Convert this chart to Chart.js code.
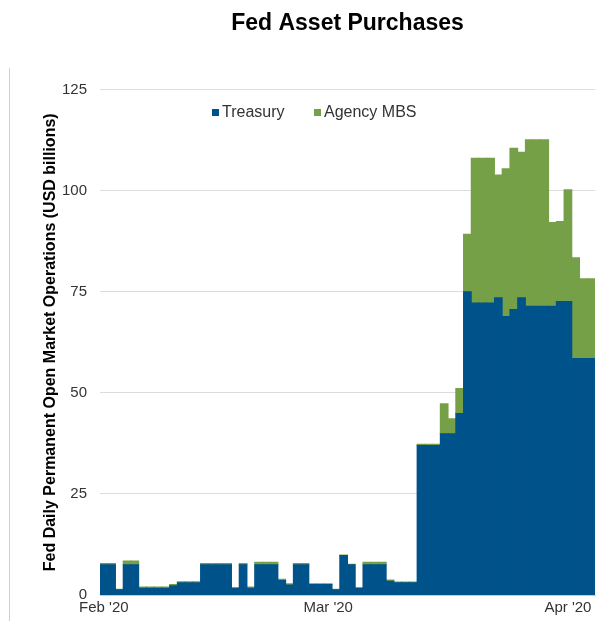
<!DOCTYPE html>
<html>
<head>
<meta charset="utf-8">
<script src="https://cdn.jsdelivr.net/npm/chart.js@4"></script>
<style>
  html, body { margin: 0; padding: 0; background: #ffffff; }
  #wrap { position: relative; width: 597px; height: 621px; }
  #frame { position: absolute; left: 9px; top: 68px; width: 1px; height: 553px; background: #d0d0d0; }
  canvas { position: absolute; left: 0; top: 0; }
</style>
</head>
<body>
<div id="wrap">
  <div id="frame"></div>
  <canvas id="c" width="597" height="621"></canvas>
</div>
<script>
// ---- Data (daily, Feb 1 2020 .. Apr 4 2020) ----
const startDate = '2020-02-01';
const dayCount = 64;
const seriesNames = ['Treasury', 'Agency MBS'];
const treasury = [
  7.5, 7.5, 1.3, 7.5, 7.5,
  1.7, 1.7, 1.7, 1.7,
  2.3,
  3.0, 3.0, 3.0,
  7.5, 7.5, 7.5, 7.5,
  1.7, 7.5, 1.7,
  7.5, 7.5, 7.5,
  3.6, 2.5,
  7.5, 7.5,
  2.6, 2.6, 2.6,
  1.3, 9.8, 7.5, 1.7,
  7.5, 7.5, 7.5,
  3.4, 3.0, 3.0, 3.0,
  37.0, 37.0, 37.0,
  39.9, 39.9, 44.9, 75.0,
  72.2, 72.2, 72.2,
  73.5, 68.9, 70.6, 73.5,
  71.4, 71.4, 71.4, 71.4,
  72.6, 72.6,
  58.5, 58.5, 58.5
];
const agencyMBS = [
  0.3, 0.3, 0.1, 0.9, 0.9,
  0.3, 0.3, 0.3, 0.3,
  0.3,
  0.3, 0.3, 0.3,
  0.3, 0.3, 0.3, 0.3,
  0.1, 0.3, 0.3,
  0.6, 0.6, 0.6,
  0.3, 0.3,
  0.3, 0.3,
  0.2, 0.2, 0.2,
  0.1, 0.1, 0.1, 0.1,
  0.6, 0.6, 0.6,
  0.3, 0.2, 0.2, 0.2,
  0.3, 0.3, 0.3,
  7.4, 3.7, 6.2, 14.2,
  35.8, 35.8, 35.8,
  30.4, 36.5, 39.9, 36.0,
  41.2, 41.2, 41.2, 20.7,
  19.8, 27.6,
  24.9, 19.7, 19.7
];
const xTickDates = ['2020-02-01', '2020-03-01', '2020-04-01'];
const xTickLabels = ["Feb '20", "Mar '20", "Apr '20"];
const yTicks = [0, 25, 50, 75, 100, 125];

// build daily category labels
const categories = [];
{
  const d0 = new Date(startDate + 'T00:00:00Z');
  for (let i = 0; i < dayCount; i++) {
    const d = new Date(d0.getTime() + i * 86400000);
    categories.push(d.toISOString().slice(0, 10));
  }
}

const COLORS = { treasury: '#00538A', mbs: '#76A047' };
const FONT = "'Liberation Sans', Arial, sans-serif";

// legend drawn inside the plot area
const innerLegend = {
  id: 'innerLegend',
  afterDraw(chart) {
    const ctx = chart.ctx;
    const items = [
      { x: 212, label: chart.data.datasets[0].label, color: chart.data.datasets[0].backgroundColor },
      { x: 314, label: chart.data.datasets[1].label, color: chart.data.datasets[1].backgroundColor }
    ];
    const y = 112;
    ctx.save();
    ctx.font = '16px ' + FONT;
    ctx.textBaseline = 'middle';
    ctx.textAlign = 'left';
    items.forEach(it => {
      ctx.fillStyle = it.color;
      ctx.fillRect(it.x, y - 3, 7, 7);
      ctx.fillStyle = '#333333';
      ctx.fillText(it.label, it.x + 10, y + 1);
    });
    ctx.restore();
  }
};

new Chart(document.getElementById('c'), {
  type: 'bar',
  data: {
    labels: categories,
    datasets: [
      { label: seriesNames[0], data: treasury, backgroundColor: COLORS.treasury, borderWidth: 0,
        barPercentage: 1.0, categoryPercentage: 1.0, inflateAmount: 0.5 },
      { label: seriesNames[1], data: agencyMBS, backgroundColor: COLORS.mbs, borderWidth: 0,
        barPercentage: 1.0, categoryPercentage: 1.0, inflateAmount: 0.5 }
    ]
  },
  options: {
    responsive: false,
    animation: false,
    devicePixelRatio: 1,
    layout: { padding: { left: 0, right: 2, top: 0, bottom: 0 } },
    plugins: {
      legend: { display: false },
      tooltip: { enabled: false },
      title: {
        display: true,
        text: 'Fed Asset Purchases',
        fullSize: false,
        color: '#000000',
        font: { family: FONT, size: 23, weight: 'bold' },
        padding: { top: 10, bottom: 52 }
      }
    },
    scales: {
      x: {
        stacked: true,
        grid: { display: false, drawTicks: false },
        border: { display: true, color: '#c8c8c8', width: 1 },
        ticks: {
          autoSkip: false,
          maxRotation: 0,
          minRotation: 0,
          padding: 4,
          color: '#333333',
          font: { family: FONT, size: 15 },
          callback: function (value, index) {
            const k = xTickDates.indexOf(categories[index]);
            return k >= 0 ? xTickLabels[k] : '';
          }
        }
      },
      y: {
        stacked: true,
        min: 0,
        max: 125,
        afterFit: (scale) => { scale.width = 100; },
        afterBuildTicks: (scale) => { scale.ticks = yTicks.map(v => ({ value: v })); },
        grid: { color: '#dcdcdc', lineWidth: 1, drawTicks: false },
        border: { display: false },
        ticks: {
          padding: 13,
          color: '#333333',
          font: { family: FONT, size: 15 }
        },
        title: {
          display: true,
          text: 'Fed Daily Permanent Open Market Operations (USD billions)',
          color: '#000000',
          font: { family: FONT, size: 16, weight: 'bold' },
          padding: { top: 41, bottom: 0 }
        }
      }
    }
  },
  plugins: [innerLegend]
});
</script>
</body>
</html>
